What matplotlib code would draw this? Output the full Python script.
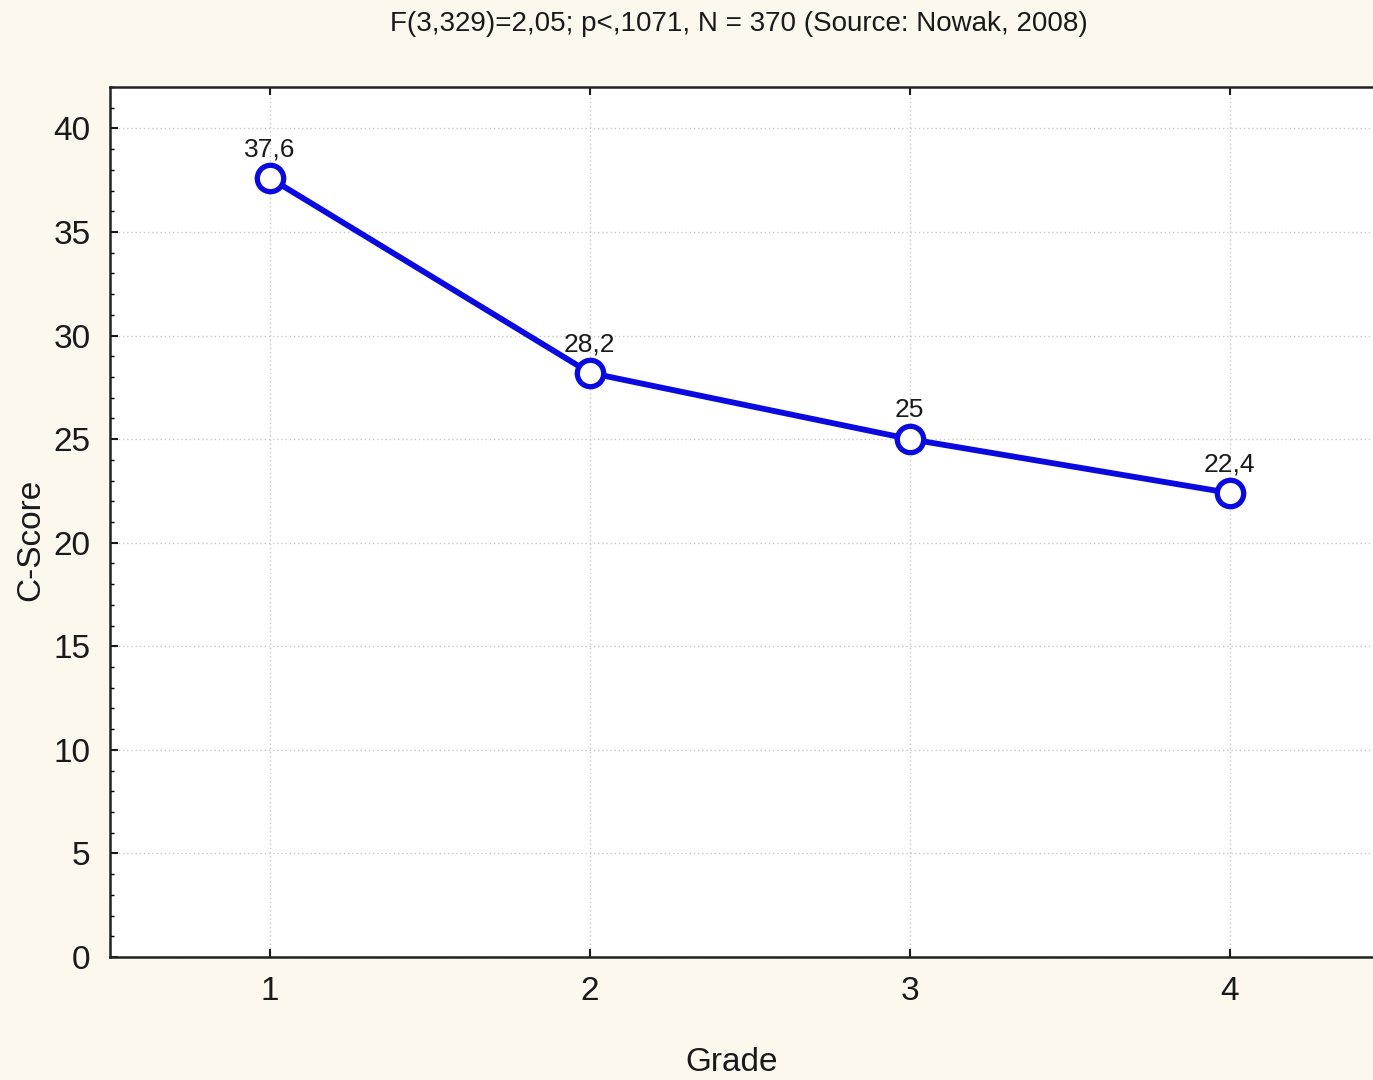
import matplotlib.pyplot as plt
from matplotlib.ticker import MultipleLocator

# Mean C-Score per grade
grades = [1, 2, 3, 4]
c_scores = [37.6, 28.2, 25.0, 22.4]
value_labels = ["37,6", "28,2", "25", "22,4"]
title = "F(3,329)=2,05; p<,1071, N = 370 (Source: Nowak, 2008)"

plt.rcParams['font.family'] = ['Liberation Sans', 'DejaVu Sans']

bg = "#fdf8ee"
fig = plt.figure(figsize=(13.73, 10.8), dpi=100, facecolor=bg)
ax = fig.add_axes([0.0801, 0.1139, 0.932, 0.8056])
ax.set_facecolor("white")

ax.plot(grades, c_scores, color="#0a0ae0", lw=4.2, marker="o", ms=19,
        mfc="white", mec="#0a0ae0", mew=3.8, zorder=3)

for x, y, lab in zip(grades, c_scores, value_labels):
    ax.annotate(lab, (x, y), xytext=(0, 12), textcoords="offset points",
                ha="center", va="bottom", fontsize=19, color="#1a1a1a")

ax.set_xlim(0.5, 4.5)
ax.set_ylim(0, 42)
ax.set_xticks(grades)
ax.yaxis.set_major_locator(MultipleLocator(5))
ax.yaxis.set_minor_locator(MultipleLocator(1))
ax.tick_params(axis="both", direction="in", labelsize=24, colors="#1a1a1a",
               top=True, length=6, width=1.5, pad=14)
ax.tick_params(axis="y", which="minor", direction="in", length=3, width=1)
ax.grid(True, which="major", color="#c8c8c8", linestyle=(0, (1, 2)), lw=1)

for side in ["left", "bottom", "top"]:
    ax.spines[side].set_linewidth(1.8)
    ax.spines[side].set_color("#222222")

ax.set_xlabel("Grade", fontsize=24, color="#1a1a1a")
ax.set_ylabel("C-Score", fontsize=24, color="#1a1a1a")
ax.xaxis.set_label_coords(0.486, -0.121)
ax.yaxis.set_label_coords(-0.062, 0.479)
ax.xaxis.label.set_va("center")
ax.yaxis.label.set_va("center")
fig.text(0.538, 0.978, title, ha="center", va="center", fontsize=20, color="#1a1a1a")

fig.savefig("out.png", dpi=100, facecolor=bg)
